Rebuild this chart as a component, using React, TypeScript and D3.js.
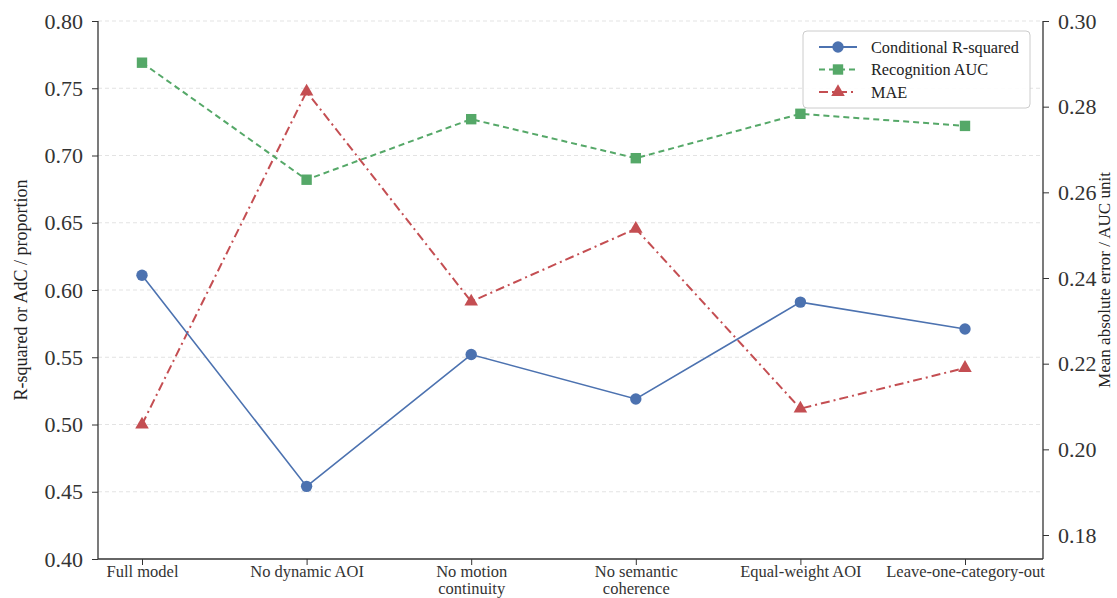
import React, { useEffect, useRef } from "react";
import * as d3 from "d3";

const categories = [
  "Full model",
  "No dynamic AOI",
  "No motion\ncontinuity",
  "No semantic\ncoherence",
  "Equal-weight AOI",
  "Leave-one-category-out",
];
const rSquared = [0.611, 0.454, 0.552, 0.519, 0.591, 0.571];
const recognitionAuc = [0.769, 0.682, 0.727, 0.698, 0.731, 0.722];
const mae = [0.2058, 0.2835, 0.2345, 0.2515, 0.2095, 0.219];
const leftTicks = [0.4, 0.45, 0.5, 0.55, 0.6, 0.65, 0.7, 0.75, 0.8];
const rightTicks = [0.18, 0.2, 0.22, 0.24, 0.26, 0.28, 0.3];

const legendItems = [
  { label: "Conditional R-squared", color: "#4C72B0", dash: null, marker: "circle" },
  { label: "Recognition AUC", color: "#55A868", dash: "6,4", marker: "square" },
  { label: "MAE", color: "#C44E52", dash: "9,4,2,4", marker: "triangle" },
];

const App = () => {
  const ref = useRef(null);

  useEffect(() => {
    const svg = d3.select(ref.current);
    svg.selectAll("*").remove();

    const width = 1117;
    const height = 598;
    const left = 98;
    const right = 1043;
    const top = 21;
    const bottom = 559;
    const font = "'Liberation Serif', 'Times New Roman', serif";

    svg.attr("width", width).attr("height", height);

    const x = d3.scalePoint().domain(categories).range([142, 965]);
    const yL = d3.scaleLinear().domain([0.4, 0.8]).range([bottom, top]);
    const yR = d3.scaleLinear().domain([0.1744, 0.3]).range([bottom, top]);

    // grid
    svg
      .append("g")
      .selectAll("line")
      .data(leftTicks.slice(1))
      .join("line")
      .attr("x1", left)
      .attr("x2", right)
      .attr("y1", (d) => yL(d))
      .attr("y2", (d) => yL(d))
      .attr("stroke", "#dcdcdc")
      .attr("stroke-width", 0.8)
      .attr("stroke-dasharray", "4,3");

    const axisColor = "#333";

    const gL = svg
      .append("g")
      .attr("transform", `translate(${left},0)`)
      .call(d3.axisLeft(yL).tickValues(leftTicks).tickFormat(d3.format(".2f")).tickSize(6).tickPadding(9));
    const gR = svg
      .append("g")
      .attr("transform", `translate(${right},0)`)
      .call(d3.axisRight(yR).tickValues(rightTicks).tickFormat(d3.format(".2f")).tickSize(6).tickPadding(9));
    const gB = svg
      .append("g")
      .attr("transform", `translate(0,${bottom})`)
      .call(d3.axisBottom(x).tickSize(6).tickPadding(0));

    [gL, gR].forEach((g) => {
      g.select(".domain").attr("d", `M0,${top}V${bottom}`);
      g.selectAll("text").attr("font-size", 22).attr("font-family", font).attr("fill", "#333");
    });
    gB.select(".domain").attr("d", `M${left},0H${right}`);
    [gL, gR, gB].forEach((g) => {
      g.select(".domain").attr("stroke", axisColor).attr("stroke-width", 1.3);
      g.selectAll(".tick line").attr("stroke", axisColor).attr("stroke-width", 1);
    });

    gB.selectAll(".tick text").each(function (d) {
      const t = d3.select(this);
      t.text(null)
        .attr("font-size", 16.5)
        .attr("font-family", font)
        .attr("fill", "#333");
      String(d)
        .split("\n")
        .forEach((line, i) => {
          t.append("tspan").attr("x", 0).attr("dy", i === 0 ? "0.71em" : "1.07em").text(line);
        });
    });

    // axis titles
    svg
      .append("text")
      .attr("transform", `translate(27,${(top + bottom) / 2}) rotate(-90)`)
      .attr("text-anchor", "middle")
      .attr("font-size", 18)
      .attr("font-family", font)
      .attr("fill", "#222")
      .text("R-squared or AdC / proportion");
    svg
      .append("text")
      .attr("transform", `translate(1110,${(top + bottom) / 2 - 10}) rotate(-90)`)
      .attr("text-anchor", "middle")
      .attr("font-size", 17)
      .attr("font-family", font)
      .attr("fill", "#222")
      .text("Mean absolute error / AUC unit");

    const drawMarker = (g, type, cx, cy, color) => {
      if (type === "circle") {
        g.append("circle").attr("cx", cx).attr("cy", cy).attr("r", 5.7).attr("fill", color);
      } else if (type === "square") {
        g.append("rect").attr("x", cx - 5.2).attr("y", cy - 5.2).attr("width", 10.4).attr("height", 10.4).attr("fill", color);
      } else {
        g.append("path")
          .attr("d", d3.symbol(d3.symbolTriangle, 80)())
          .attr("transform", `translate(${cx},${cy})`)
          .attr("fill", color);
      }
    };

    const series = [
      { values: mae, scale: yR, ...legendItems[2], width: 2 },
      { values: recognitionAuc, scale: yL, ...legendItems[1], width: 2 },
      { values: rSquared, scale: yL, ...legendItems[0], width: 1.6 },
    ];

    series.forEach((s) => {
      const line = d3
        .line<number>()
        .x((_, i) => x(categories[i]))
        .y((d) => s.scale(d));
      const g = svg.append("g");
      g.append("path")
        .attr("d", line(s.values))
        .attr("fill", "none")
        .attr("stroke", s.color)
        .attr("stroke-width", s.width)
        .attr("stroke-dasharray", s.dash);
      s.values.forEach((v, i) => drawMarker(g, s.marker, x(categories[i]), s.scale(v), s.color));
    });

    // legend
    const lg = svg.append("g");
    lg.append("rect")
      .attr("x", 803)
      .attr("y", 31)
      .attr("width", 227)
      .attr("height", 77)
      .attr("rx", 4)
      .attr("fill", "white")
      .attr("fill-opacity", 0.9)
      .attr("stroke", "#cccccc")
      .attr("stroke-width", 1);
    legendItems.forEach((item, i) => {
      const cy = 47 + i * 22.5;
      lg.append("line")
        .attr("x1", 819)
        .attr("x2", 857)
        .attr("y1", cy)
        .attr("y2", cy)
        .attr("stroke", item.color)
        .attr("stroke-width", 2)
        .attr("stroke-dasharray", item.dash);
      drawMarker(lg, item.marker, 838, cy, item.color);
      lg.append("text")
        .attr("x", 871)
        .attr("y", cy)
        .attr("dy", "0.35em")
        .attr("font-size", 16.3)
        .attr("font-family", font)
        .attr("fill", "#222")
        .text(item.label);
    });
  }, []);

  return (
    <svg
      ref={ref}
      style={{ position: "absolute", left: 0, top: 0, background: "white" }}
    ></svg>
  );
};

export default App;
